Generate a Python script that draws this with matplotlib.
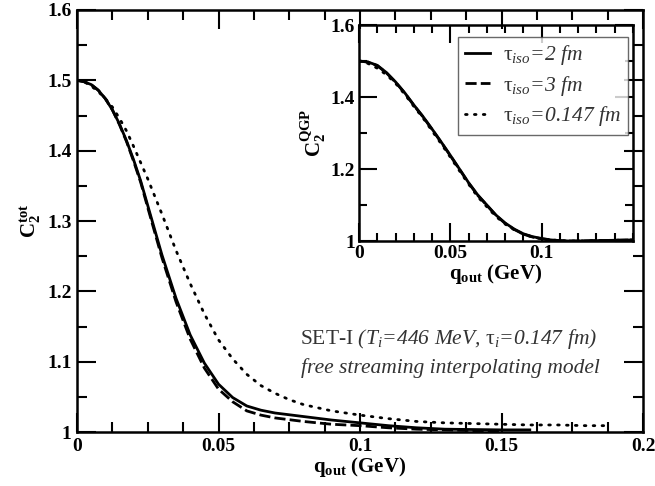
import matplotlib
matplotlib.use('Agg')
import matplotlib.pyplot as plt
from matplotlib.ticker import MultipleLocator

plt.rcParams['font.family'] = ['Liberation Serif', 'DejaVu Serif']
plt.rcParams['mathtext.fontset'] = 'custom'
plt.rcParams['mathtext.rm'] = 'Liberation Serif'
plt.rcParams['mathtext.it'] = 'Liberation Serif:italic'
plt.rcParams['mathtext.bf'] = 'Liberation Serif:bold'

# main panel: total correlator vs q_out
q_main = [0, 0.0025, 0.005, 0.0075, 0.01, 0.0125, 0.015, 0.0175, 0.02, 0.0225, 0.025, 0.03, 0.035,
          0.04, 0.045, 0.05, 0.055, 0.06, 0.065, 0.07, 0.08, 0.09, 0.10, 0.11, 0.12, 0.13, 0.14,
          0.15, 0.16]
c_tau2 = [1.500, 1.498, 1.494, 1.486, 1.474, 1.458, 1.438, 1.414, 1.387, 1.357, 1.322, 1.252, 1.190,
          1.138, 1.098, 1.068, 1.049, 1.037, 1.031, 1.027, 1.022, 1.017, 1.013, 1.009, 1.006, 1.004,
          1.0035, 1.003, 1.003]
q_tau3 = q_main[:-1]
c_tau3 = [1.500, 1.498, 1.494, 1.486, 1.474, 1.458, 1.437, 1.413, 1.385, 1.355, 1.319, 1.248, 1.185,
          1.132, 1.091, 1.061, 1.043, 1.030, 1.024, 1.020, 1.015, 1.011, 1.009, 1.006, 1.004, 1.003,
          1.002, 1.002]
q_dot = [0, 0.0025, 0.005, 0.0075, 0.01, 0.0125, 0.015, 0.0175, 0.02, 0.025, 0.03, 0.035, 0.04,
         0.045, 0.05, 0.055, 0.06, 0.065, 0.07, 0.075, 0.08, 0.09, 0.10, 0.11, 0.12, 0.13, 0.14,
         0.15, 0.16, 0.17, 0.18, 0.188]
c_dot = [1.500, 1.498, 1.492, 1.484, 1.474, 1.462, 1.446, 1.428, 1.406, 1.360, 1.310, 1.258, 1.211,
         1.168, 1.131, 1.104, 1.082, 1.066, 1.055, 1.046, 1.039, 1.030, 1.024, 1.019, 1.015, 1.013,
         1.012, 1.011, 1.010, 1.010, 1.009, 1.009]

# inset: QGP part
q_in = [0, 0.005, 0.01, 0.015, 0.02, 0.025, 0.03, 0.035, 0.04, 0.045, 0.05, 0.055, 0.06, 0.065,
        0.07, 0.075, 0.08, 0.085, 0.09, 0.095, 0.1, 0.105, 0.11, 0.115, 0.12, 0.13, 0.14, 0.15]
qgp_tau2 = [1.500, 1.497, 1.488, 1.468, 1.442, 1.412, 1.378, 1.346, 1.311, 1.275, 1.238, 1.200, 1.162, 1.128,
            1.100, 1.072, 1.050, 1.033, 1.020, 1.012, 1.007, 1.003, 1.001, 1.000, 1.000, 1.001, 1.002, 1.003]
qgp_tau3 = [1.500, 1.497, 1.487, 1.467, 1.441, 1.411, 1.377, 1.345, 1.310, 1.274, 1.237, 1.199, 1.161, 1.127,
            1.099, 1.071, 1.049, 1.032, 1.019, 1.011, 1.006, 1.003, 1.001, 1.000, 1.000, 1.001, 1.002, 1.003]
qgp_dot = [1.500, 1.493, 1.480, 1.462, 1.438, 1.408, 1.374, 1.342, 1.306, 1.270, 1.233, 1.195, 1.158, 1.123,
           1.095, 1.068, 1.047, 1.031, 1.019, 1.011, 1.006, 1.003, 1.001, 1.000, 1.000, 1.001, 1.002, 1.003]

labels = [r'$\mathrm{τ}_{iso}$=2 fm', r'$\mathrm{τ}_{iso}$=3 fm', r'$\mathrm{τ}_{iso}$=0.147 fm']

lw = 2.0
dash = (0, (4, 1.5))
dots = (0, (0.6, 2.6))

fig = plt.figure(figsize=(6.55, 4.86), dpi=100)
ax = fig.add_axes([77/655, 54/486, 566/655, 422/486])

ax.plot(q_main, c_tau2, color='black', lw=lw)
ax.plot(q_tau3, c_tau3, color='black', lw=lw, linestyle=dash)
ax.plot(q_dot, c_dot, color='black', lw=lw, linestyle=dots, dash_capstyle='round')

ax.set_xlim(0, 0.2)
ax.set_ylim(1, 1.6)
ax.set_xticks([0, 0.05, 0.1, 0.15, 0.2], ['0', '0.05', '0.1', '0.15', '0.2'])
ax.set_yticks([1, 1.1, 1.2, 1.3, 1.4, 1.5, 1.6], ['1', '1.1', '1.2', '1.3', '1.4', '1.5', '1.6'])
ax.xaxis.set_minor_locator(MultipleLocator(0.0125))
ax.yaxis.set_minor_locator(MultipleLocator(0.05))
ax.tick_params(which='both', direction='in', top=True, right=True, width=1.5)
ax.tick_params(which='major', length=14, labelsize=14, pad=4)
ax.tick_params(which='minor', length=7)
for lab in ax.get_xticklabels() + ax.get_yticklabels():
    lab.set_fontweight('bold')
for s in ax.spines.values():
    s.set_linewidth(1.8)

ax.set_xlabel(r'q$_{\mathbf{out}}$ (GeV)', fontsize=15, fontweight='bold', labelpad=0)
ax.set_ylabel(r'C$_{\mathbf{2}}^{\mathbf{tot}}$', fontsize=15, fontweight='bold', labelpad=2)

ax.text(0.394, 0.2085, r'$\mathrm{SET}$-$\mathrm{I}$ (T$_i$=446 MeV, $\mathrm{τ}_i$=0.147 fm)',
        transform=ax.transAxes, fontsize=15.5, style='italic', color='#333333', va='baseline')
ax.text(0.396, 0.140, 'free streaming interpolating model',
        transform=ax.transAxes, fontsize=15.5, style='italic', color='#333333', va='baseline')

# inset
ins = fig.add_axes([359/655, 245/486, 274/655, 216/486])
ins.patch.set_alpha(0)
ins.plot(q_in, qgp_tau2, color='black', lw=lw, label=labels[0])
ins.plot(q_in, qgp_tau3, color='black', lw=lw, linestyle=dash, label=labels[1])
ins.plot(q_in, qgp_dot, color='black', lw=lw, linestyle=dots, dash_capstyle='round', label=labels[2])
ins.set_xlim(0, 0.15)
ins.set_ylim(1, 1.6)
ins.set_xticks([0, 0.05, 0.1], ['0', '0.05', '0.1'])
ins.set_yticks([1, 1.2, 1.4, 1.6], ['1', '1.2', '1.4', '1.6'])
ins.xaxis.set_minor_locator(MultipleLocator(0.01))
ins.yaxis.set_minor_locator(MultipleLocator(0.1))
ins.tick_params(which='both', direction='in', top=True, right=True, width=1.5)
ins.tick_params(which='major', length=13, labelsize=14, pad=3)
ins.tick_params(which='minor', length=6)
for lab in ins.get_xticklabels() + ins.get_yticklabels():
    lab.set_fontweight('bold')
for s in ins.spines.values():
    s.set_linewidth(1.8)
ins.set_xlabel(r'q$_{\mathbf{out}}$ (GeV)', fontsize=15, fontweight='bold', labelpad=0)
ins.set_ylabel(r'C$_{\mathbf{2}}^{\mathbf{QGP}}$', fontsize=15, fontweight='bold', labelpad=2)

leg = ins.legend(loc='upper right', bbox_to_anchor=(0.98, 0.945), fancybox=False,
                 frameon=True, handlelength=1.2, handletextpad=0.6, labelspacing=0.3,
                 borderpad=0.3, borderaxespad=0,
                 prop={'family': 'Liberation Serif', 'style': 'italic', 'size': 15.5})
leg.get_frame().set_edgecolor('#444444')
leg.get_frame().set_linewidth(1.0)
for t in leg.get_texts():
    t.set_color('#333333')

fig.savefig('out.png', dpi=100)
